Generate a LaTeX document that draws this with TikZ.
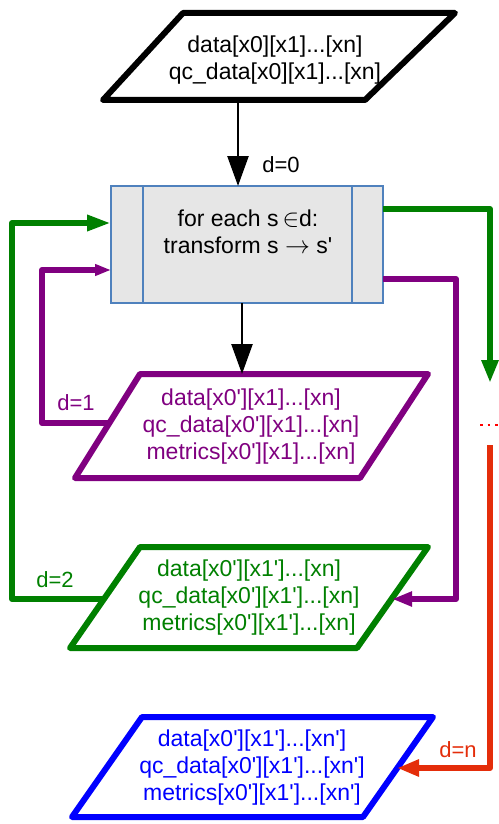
\documentclass[tikz,border=0pt]{standalone}
\usepackage{fontspec}
\setmainfont{Liberation Sans}
\usetikzlibrary{arrows.meta}
\newcommand\pq{\textquotesingle}
\definecolor{cgreen}{RGB}{0,128,0}
\definecolor{cpurple}{RGB}{128,0,128}
\definecolor{cblue}{RGB}{0,0,255}
\definecolor{cred}{RGB}{228,45,10}
\definecolor{cdots}{RGB}{255,0,0}
\definecolor{boxfill}{RGB}{230,230,230}
\definecolor{boxline}{RGB}{79,129,189}
\tikzset{
  para/.style={line width=6pt, line join=round, fill=white},
  txt/.style={align=center, font=\fontsize{23}{27}\selectfont, inner sep=0pt},
  lbl/.style={font=\fontsize{22}{26}\selectfont, inner sep=0pt},
  loop/.style={line width=6pt, line join=round},
  blackarrow/.style={line width=2.5pt, -{Triangle[length=30pt,width=21pt]}},
}
\begin{document}
\begin{tikzpicture}[x=1pt,y=-1pt]
\useasboundingbox (0,0) rectangle (498,824);

% top parallelogram
\draw[para, draw=black] (183,13) -- (455,13) -- (365,100) -- (103,100) -- cycle;
\node[txt] (top) at (275,60) {data[x0][x1]...[xn]\\qc\_data[x0][x1]...[xn]};

% process box
\node[draw=boxline, line width=1.3pt, fill=boxfill, minimum width=272pt, minimum height=117pt, inner sep=0pt] (proc) at (247,244.5) {};
\draw[boxline, line width=1.3pt] (143,186) -- (143,303) (352,186) -- (352,303);
\node[txt] (proctxt) at (248,232) {for each s\,$\in$d:\\transform s $\rightarrow$ s\pq};

% purple parallelogram
\draw[para, draw=cpurple] (140,374) -- (428,374) -- (360,478) -- (75,478) -- cycle;
\node[txt, text=cpurple] (p1) at (251,427) {data[x0\pq][x1]...[xn]\\qc\_data[x0\pq][x1]...[xn]\\metrics[x0\pq][x1]...[xn]};

% green parallelogram
\draw[para, draw=cgreen] (140,547) -- (428,547) -- (357,648) -- (70,648) -- cycle;
\node[txt, text=cgreen] (p2) at (249,598) {data[x0\pq][x1\pq]...[xn]\\qc\_data[x0\pq][x1\pq]...[xn]\\metrics[x0\pq][x1\pq]...[xn]};

% blue parallelogram
\draw[para, draw=cblue] (142,717) -- (433,717) -- (363,817) -- (72,817) -- cycle;
\node[txt, text=cblue] (pn) at (252,768) {data[x0\pq][x1\pq]...[xn\pq]\\qc\_data[x0\pq][x1\pq]...[xn\pq]\\metrics[x0\pq][x1\pq]...[xn\pq]};

% connector end points
\coordinate (topout) at (238,100);
\coordinate (procin) at (238,186);
\coordinate (procout) at (242,303);
\coordinate (p1in) at (242,374);
\coordinate (p1left) at (109,423);
\coordinate (p2left) at (104,599);
\coordinate (procleftG) at (111,223);
\coordinate (procleftP) at (111,270);
\coordinate (procrightG) at (383,209);
\coordinate (procrightP) at (383,279);
\coordinate (gdown) at (490,383);
\coordinate (p2right) at (392,599);
\coordinate (redstart) at (490,445);
\coordinate (pnright) at (397,768);
\coordinate (dotsA) at (480,425);
\coordinate (dotsB) at (498,425);

% black arrows
\draw[blackarrow] (topout) -- (procin);
\node[lbl] (d0) at (281,165) {d=0};
\draw[blackarrow] (procout) -- (p1in);

% purple loop d=1
\draw[loop, cpurple, -{Triangle[length=16pt,width=11pt]}] (p1left) -| (42,270) -- (procleftP);
\node[lbl, text=cpurple] (d1) at (76,403) {d=1};

% green loop d=2
\draw[loop, cgreen, -{Triangle[length=24pt,width=15pt]}] (p2left) -| (12,223) -- (procleftG);
\node[lbl, text=cgreen] (d2) at (55,580) {d=2};

% green out to the right
\draw[loop, cgreen, -{Triangle[length=23pt,width=16pt]}] (procrightG) -| (gdown);

% purple out to green parallelogram
\draw[loop, cpurple, -{Triangle[length=20pt,width=14pt]}] (procrightP) -| (456,599) -- (p2right);

% red dots
\draw[cdots, line width=2.5pt, dash pattern=on 2.5pt off 5pt] (dotsA) -- (dotsB);

% red to blue
\draw[loop, cred, -{Triangle[length=22pt,width=16pt]}] (redstart) |- (pnright);
\node[lbl, text=cred] (dn) at (458,750) {d=n};

\end{tikzpicture}
\end{document}
